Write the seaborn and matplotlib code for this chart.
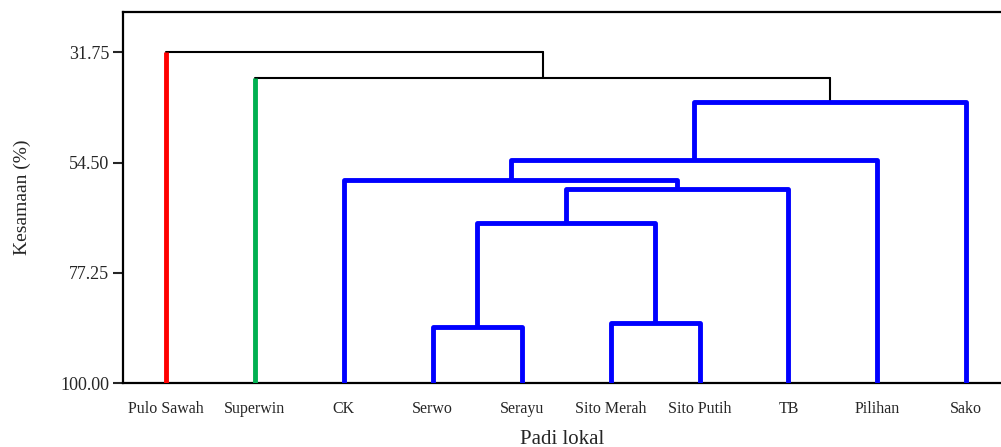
import matplotlib
matplotlib.use("Agg")
import matplotlib.pyplot as plt
import seaborn as sns

leaves = ["Pulo Sawah", "Superwin", "CK", "Serwo", "Serayu",
          "Sito Merah", "Sito Putih", "TB", "Pilihan", "Sako"]
leaf_group = ["red", "green", "blue", "blue", "blue",
              "blue", "blue", "blue", "blue", "blue"]

# merges in linkage order: (left id, right id, similarity %)
# ids 0-9 are leaves, 10+ are the clusters created by earlier merges
merge_left = [5, 3, 10, 12, 2, 14, 15, 1, 0]
merge_right = [6, 4, 11, 7, 13, 8, 9, 16, 17]
merge_sim = [87.52, 88.35, 66.94, 60.01, 58.01, 53.90, 42.04, 37.10, 31.75]

y_ticks = [31.75, 54.50, 77.25, 100.00]

palette = {"red": "#ff0000", "green": "#00b050", "blue": "#0000ff"}


def main():
    sns.set_style("white")
    plt.rcParams["font.family"] = ["Liberation Serif", "DejaVu Serif"]

    fig = plt.figure(figsize=(10.01, 4.47), dpi=100)
    ax = fig.add_axes([123 / 1001, 1 - 383.3 / 447, 1 - 123 / 1001, (383.3 - 11.7) / 447])

    xpos = {i: i + 1 for i in range(len(leaves))}
    ypos = {i: 100.0 for i in range(len(leaves))}
    groups = {i: {leaf_group[i]} for i in range(len(leaves))}

    for k, (a, b, s) in enumerate(zip(merge_left, merge_right, merge_sim)):
        node = len(leaves) + k
        xa, xb = xpos[a], xpos[b]
        ya, yb = ypos[a], ypos[b]
        merged = groups[a] | groups[b]
        if len(merged) == 1:
            c = palette[next(iter(merged))]
            ax.plot([xa, xa, xb, xb], [ya, s, s, yb], color=c, lw=3.5,
                    solid_joinstyle="round", solid_capstyle="butt", zorder=3)
        else:
            ax.plot([xa, xb], [s, s], color="black", lw=1.5, zorder=2)
            for child, xc, yc in ((a, xa, ya), (b, xb, yb)):
                if child < len(leaves):
                    ax.plot([xc, xc], [yc, s], color=palette[leaf_group[child]],
                            lw=3.5, solid_capstyle="butt", zorder=3)
                else:
                    ax.plot([xc, xc], [yc, s], color="black", lw=1.5, zorder=2)
        xpos[node] = (xa + xb) / 2
        ypos[node] = s
        groups[node] = merged

    ax.set_xlim(0.516, 10.39)
    ax.set_ylim(100, 23.4)
    ax.set_yticks(y_ticks)
    ax.set_yticklabels([f"{v:.2f}" for v in y_ticks], fontsize=13)
    ax.set_xticks(range(1, len(leaves) + 1))
    ax.set_xticklabels(leaves, fontsize=11.5)
    ax.tick_params(axis="y", direction="out", length=7, width=1.5, left=True, pad=3)
    ax.tick_params(axis="x", length=0, pad=13)

    ax.spines["right"].set_visible(False)
    for side in ("left", "top", "bottom"):
        ax.spines[side].set_linewidth(1.6)
        ax.spines[side].set_color("black")

    ax.set_xlabel("Padi lokal", fontsize=15, labelpad=9)
    ax.set_ylabel("Kesamaan (%)", fontsize=14, labelpad=21)

    fig.savefig("out.png", dpi=100)


if __name__ == "__main__":
    main()
